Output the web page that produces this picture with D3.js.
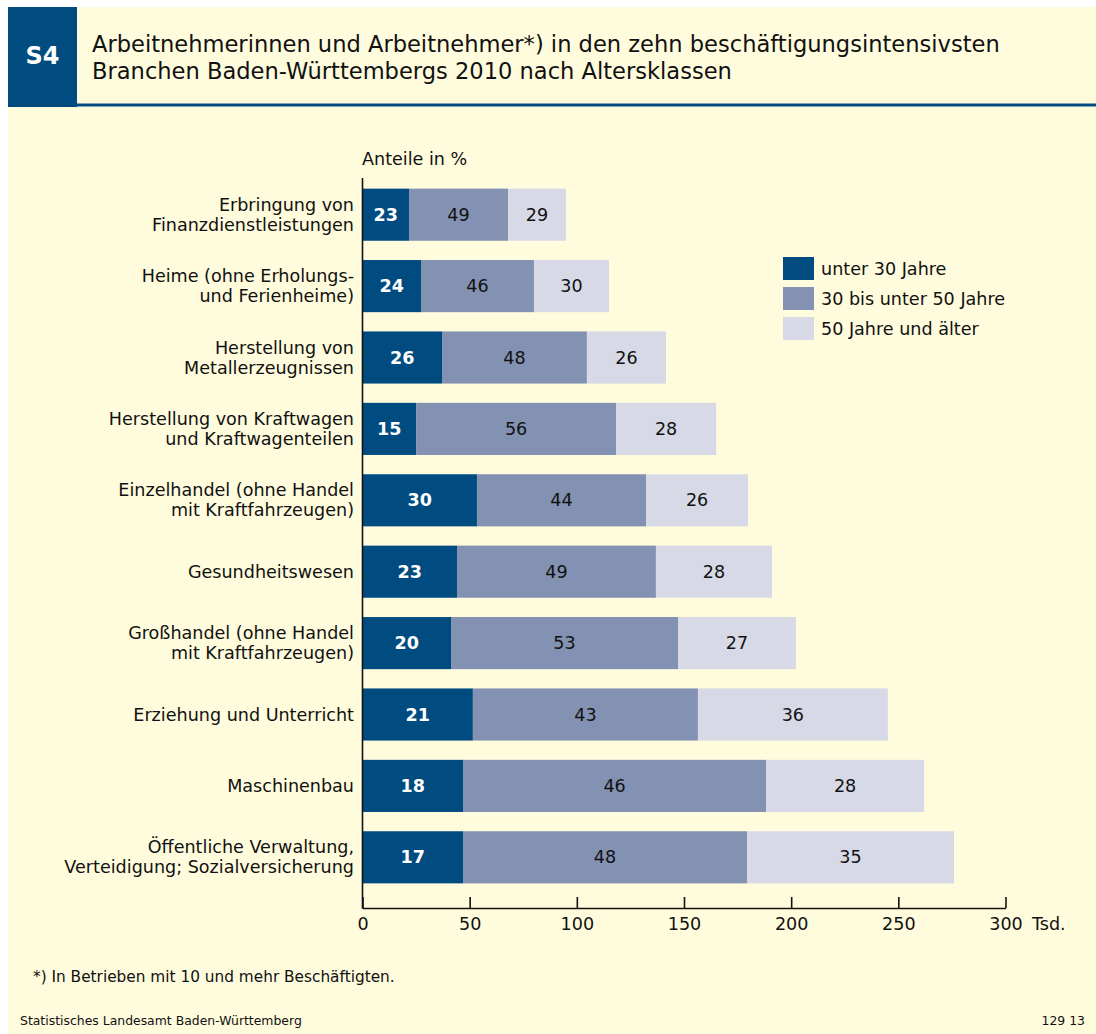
<!DOCTYPE html>
<html><head><meta charset="utf-8">
<script src="https://cdn.jsdelivr.net/npm/d3@7"></script>
<style>
html,body{margin:0;padding:0;background:#fff;}
svg{display:block;font-family:"DejaVu Sans","Liberation Sans",Arial,sans-serif;}
</style></head>
<body>
<svg id="chart" width="1096" height="1034"></svg>
<script>
// ---- data ----
const categories = [
  ["Erbringung von", "Finanzdienstleistungen"],
  ["Heime (ohne Erholungs-", "und Ferienheime)"],
  ["Herstellung von", "Metallerzeugnissen"],
  ["Herstellung von Kraftwagen", "und Kraftwagenteilen"],
  ["Einzelhandel (ohne Handel", "mit Kraftfahrzeugen)"],
  ["Gesundheitswesen"],
  ["Großhandel (ohne Handel", "mit Kraftfahrzeugen)"],
  ["Erziehung und Unterricht"],
  ["Maschinenbau"],
  ["Öffentliche Verwaltung,", "Verteidigung; Sozialversicherung"]
];
const seriesNames = ["unter 30 Jahre", "30 bis unter 50 Jahre", "50 Jahre und älter"];
// segment sizes in Tsd.
const under30    = [21.7, 27.3, 37.1, 25.0, 53.4, 44.1, 41.3, 51.5, 46.9, 46.9];
const from30to50 = [46.2, 52.7, 67.6, 93.3, 78.9, 92.8, 105.9, 105.0, 141.4, 132.5];
const over50     = [27.0, 35.0, 36.9, 46.7, 47.6, 54.2, 55.0, 88.6, 73.7, 96.6];
// percentage labels as printed
const pctUnder30 = [23, 24, 26, 15, 30, 23, 20, 21, 18, 17];
const pct30to50  = [49, 46, 48, 56, 44, 49, 53, 43, 46, 48];
const pctOver50  = [29, 30, 26, 28, 26, 28, 27, 36, 28, 35];
const xTicks = [0, 50, 100, 150, 200, 250, 300];

// ---- layout ----
const colors = ["#004b80", "#8391b2", "#d7d9e7"];
const bg = "#fffcdd";
const svg = d3.select("#chart");

// measure a font size so that a reference string has a target width
function fitSize(str, target, base, weight) {
  const t = svg.append("text").attr("font-size", base).attr("font-weight", weight || "normal").text(str);
  const w = t.node().getComputedTextLength();
  t.remove();
  return base * target / w;
}
const fs = fitSize("Finanzdienstleistungen", 202, 17);
const titleFs = fitSize("Arbeitnehmerinnen und Arbeitnehmer*) in den zehn beschäftigungsintensivsten", 908, 22);
const noteFs = fitSize("*) In Betrieben mit 10 und mehr Beschäftigten.", 362, 14);
const footFs = fitSize("Statistisches Landesamt Baden-Württemberg", 282, 12);

// backgrounds
svg.append("rect").attr("x", 8).attr("y", 107).attr("width", 1088).attr("height", 927).attr("fill", bg);
svg.append("rect").attr("x", 77).attr("y", 7).attr("width", 1019).attr("height", 97).attr("fill", bg);
svg.append("rect").attr("x", 8).attr("y", 7).attr("width", 69).attr("height", 100).attr("fill", "#004b80");
svg.append("rect").attr("x", 77).attr("y", 103.5).attr("width", 1019).attr("height", 3).attr("fill", "#004b80");
svg.append("text").attr("x", 42.5).attr("y", 64).attr("text-anchor", "middle")
  .attr("fill", "#fff").attr("font-weight", "bold").attr("font-size", 24).text("S4");
const title = svg.append("text").attr("fill", "#111").attr("font-size", titleFs);
title.append("tspan").attr("x", 92).attr("y", 52).text("Arbeitnehmerinnen und Arbeitnehmer*) in den zehn beschäftigungsintensivsten");
title.append("tspan").attr("x", 92).attr("y", 79).text("Branchen Baden-Württembergs 2010 nach Altersklassen");

const x = d3.scaleLinear().domain([0, 300]).range([362.5, 1005.5]);
const y = d3.scaleBand().domain(d3.range(categories.length)).range([179, 893]).paddingInner(0.27).paddingOuter(0.135);

const rows = categories.map((c, i) => ({
  i, vals: [under30[i], from30to50[i], over50[i]],
  pcts: [pctUnder30[i], pct30to50[i], pctOver50[i]]
}));

const g = svg.append("g");
rows.forEach(r => {
  let acc = 0;
  r.vals.forEach((v, k) => {
    const x0 = x(acc), x1 = x(acc + v);
    g.append("rect").attr("x", x0).attr("y", y(r.i)).attr("width", x1 - x0)
      .attr("height", y.bandwidth()).attr("fill", colors[k]);
    g.append("text").attr("x", (x0 + x1) / 2).attr("y", y(r.i) + y.bandwidth() / 2 + 6)
      .attr("text-anchor", "middle").attr("font-size", fs)
      .attr("font-weight", k === 0 ? "bold" : "normal")
      .attr("fill", k === 0 ? "#fff" : "#111").text(r.pcts[k]);
    acc += v;
  });
  // category label
  const lines = categories[r.i];
  const cy = y(r.i) + y.bandwidth() / 2;
  const t = g.append("text").attr("text-anchor", "end").attr("font-size", fs).attr("fill", "#111");
  lines.forEach((l, j) => {
    const off = lines.length === 1 ? 6 : (j === 0 ? -4 : 16);
    t.append("tspan").attr("x", 354).attr("y", cy + off).text(l);
  });
});

// axes
const xAxis = d3.axisBottom(x).tickValues(xTicks).tickSize(-11).tickSizeOuter(0).tickPadding(10);
const ax = svg.append("g").attr("transform", "translate(0,908)").call(xAxis);
ax.select(".domain").attr("stroke", "#111").attr("stroke-width", 1.6);
ax.selectAll(".tick line").attr("stroke", "#111").attr("stroke-width", 1.6);
ax.selectAll(".tick text").attr("font-size", fs).attr("fill", "#111")
  .attr("font-family", "DejaVu Sans, Liberation Sans, Arial, sans-serif");
svg.append("text").attr("x", 1032).attr("y", 930).attr("font-size", fs).attr("fill", "#111").text("Tsd.");
svg.append("line").attr("x1", 362.5).attr("x2", 362.5).attr("y1", 178).attr("y2", 908.8)
  .attr("stroke", "#111").attr("stroke-width", 1.6);

svg.append("text").attr("x", 362).attr("y", 165).attr("font-size", fs).attr("fill", "#111").text("Anteile in %");

// legend
const lg = svg.append("g").attr("transform", "translate(783,257)");
seriesNames.forEach((s, k) => {
  lg.append("rect").attr("x", 0).attr("y", k * 30).attr("width", 31).attr("height", 23).attr("fill", colors[k]);
  lg.append("text").attr("x", 38).attr("y", k * 30 + 17.5).attr("font-size", fs).attr("fill", "#111").text(s);
});

// footnotes
svg.append("text").attr("x", 33).attr("y", 982).attr("font-size", noteFs).attr("fill", "#111").text("*) In Betrieben mit 10 und mehr Beschäftigten.");
svg.append("text").attr("x", 20).attr("y", 1025).attr("font-size", footFs).attr("fill", "#111").text("Statistisches Landesamt Baden-Württemberg");
svg.append("text").attr("x", 1085).attr("y", 1025).attr("text-anchor", "end").attr("font-size", footFs).attr("fill", "#111").text("129 13");
</script>
</body></html>
